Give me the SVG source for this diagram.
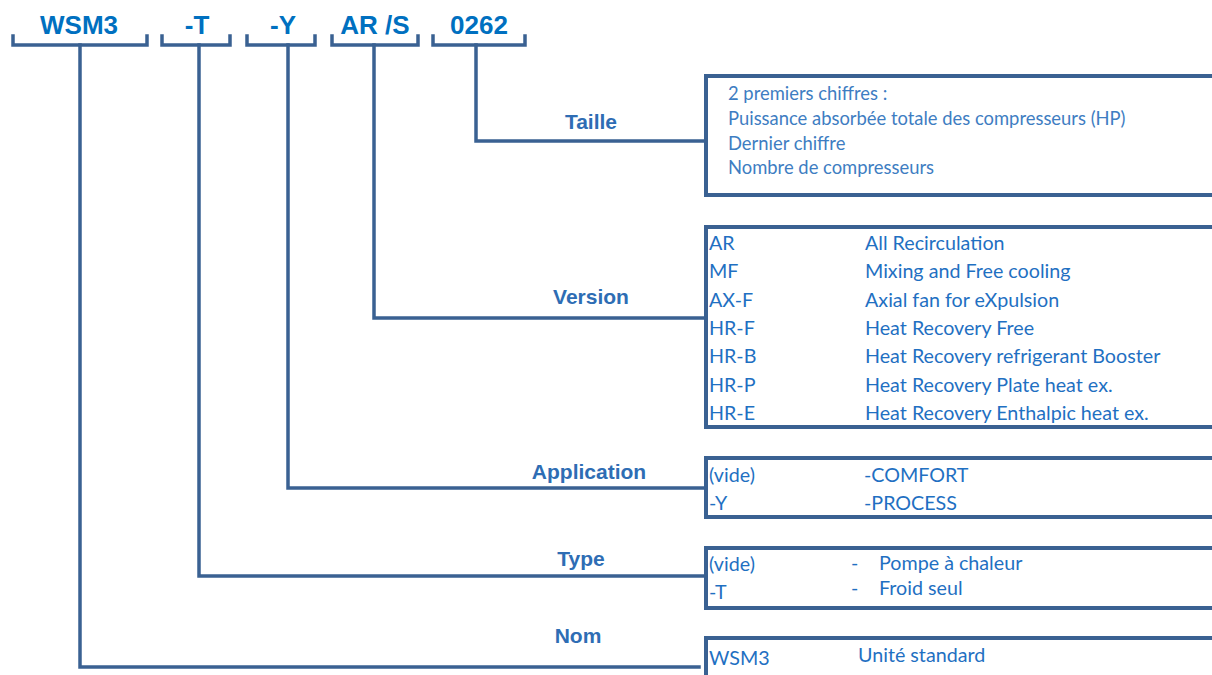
<svg xmlns="http://www.w3.org/2000/svg" width="1212" height="675" viewBox="0 0 1212 675">
<style>
.ln{fill:none;stroke:#3A6192;stroke-width:3.5;stroke-linejoin:miter;stroke-linecap:square}
.bx{fill:#fff;stroke:#3A6192;stroke-width:4}
.hd{font-family:"Liberation Sans",Arial,sans-serif;font-weight:bold;font-size:26px;fill:#0070C0;text-anchor:middle}
.lb{font-family:"Liberation Sans",Arial,sans-serif;font-weight:bold;font-size:21px;fill:#2E6DB4;text-anchor:middle}
.tx{font-family:Lato,"Open Sans",sans-serif;font-size:19.7px;fill:#1F70C2}
.tl{font-family:Lato,"Open Sans",sans-serif;font-size:18.4px;fill:#3E7DC2}
</style>
<rect width="1212" height="675" fill="#fff"/>
<g id="code-WSM3">
<path class="ln" d="M13,36 V45 H147 V36"/>
<text class="hd" x="79" y="34">WSM3</text>
</g>
<g id="code-T">
<path class="ln" d="M162,36 V45 H230 V36"/>
<text class="hd" x="197" y="34">-T</text>
</g>
<g id="code-Y">
<path class="ln" d="M247,36 V45 H315 V36"/>
<text class="hd" x="283" y="34">-Y</text>
</g>
<g id="code-ARS">
<path class="ln" d="M332,36 V45 H418 V36"/>
<text class="hd" x="375" y="34">AR /S</text>
</g>
<g id="code-0262">
<path class="ln" d="M433,36 V45 H525 V36"/>
<text class="hd" x="479" y="34">0262</text>
</g>
<g id="connectors">
<path class="ln" d="M476,45 V141 H705"/>
<path class="ln" d="M374,45 V318 H705"/>
<path class="ln" d="M288,45 V488 H705"/>
<path class="ln" d="M199,45 V576 H705"/>
<path class="ln" d="M80,45 V667 H699"/>
</g>
<g id="label-taille"><text class="lb" x="591" y="129">Taille</text></g>
<g id="label-version"><text class="lb" x="591" y="304">Version</text></g>
<g id="label-application"><text class="lb" x="589" y="479">Application</text></g>
<g id="label-type"><text class="lb" x="581" y="566">Type</text></g>
<g id="label-nom"><text class="lb" x="578" y="643">Nom</text></g>
<g id="box-taille">
<rect class="bx" x="706" y="76" width="520" height="119"/>
<text class="tl" x="728" y="100">2 premiers chiffres :</text>
<text class="tl" x="728" y="125">Puissance absorbée totale des compresseurs (HP)</text>
<text class="tl" x="728" y="150">Dernier chiffre</text>
<text class="tl" x="728" y="174">Nombre de compresseurs</text>
</g>
<g id="box-version">
<rect class="bx" x="706" y="227" width="520" height="200"/>
<text class="tx" x="709" y="250">AR</text><text class="tx" x="865" y="250">All Recirculation</text>
<text class="tx" x="709" y="278">MF</text><text class="tx" x="865" y="278">Mixing and Free cooling</text>
<text class="tx" x="709" y="307">AX-F</text><text class="tx" x="865" y="307">Axial fan for eXpulsion</text>
<text class="tx" x="709" y="335">HR-F</text><text class="tx" x="865" y="335">Heat Recovery Free</text>
<text class="tx" x="709" y="363">HR-B</text><text class="tx" x="865" y="363">Heat Recovery refrigerant Booster</text>
<text class="tx" x="709" y="392">HR-P</text><text class="tx" x="865" y="392">Heat Recovery Plate heat ex.</text>
<text class="tx" x="709" y="420">HR-E</text><text class="tx" x="865" y="420">Heat Recovery Enthalpic heat ex.</text>
</g>
<g id="box-application">
<rect class="bx" x="706" y="458" width="520" height="59"/>
<text class="tx" x="709" y="482">(vide)</text><text class="tx" x="864" y="482">-COMFORT</text>
<text class="tx" x="709" y="510">-Y</text><text class="tx" x="864" y="510">-PROCESS</text>
</g>
<g id="box-type">
<rect class="bx" x="706" y="548" width="520" height="60"/>
<text class="tx" x="709" y="571">(vide)</text><text class="tx" x="851" y="570">-</text><text class="tx" x="879" y="570">Pompe à chaleur</text>
<text class="tx" x="709" y="599">-T</text><text class="tx" x="851" y="595">-</text><text class="tx" x="879" y="595">Froid seul</text>
</g>
<g id="box-nom">
<rect class="bx" x="706" y="638" width="520" height="60"/>
<text class="tx" x="709" y="665">WSM3</text><text class="tx" x="858" y="662">Unité standard</text>
</g>
</svg>
